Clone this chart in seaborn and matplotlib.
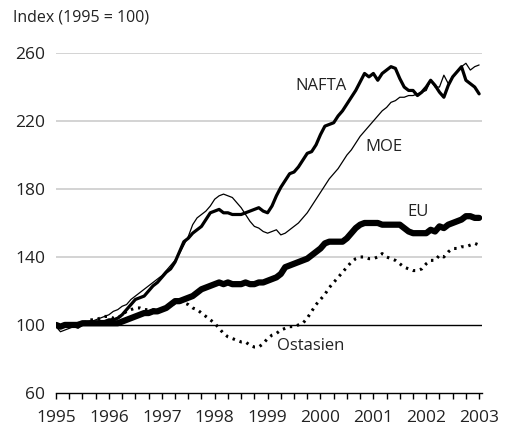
import numpy as np
import pandas as pd
import seaborn as sns
import matplotlib.pyplot as plt
from matplotlib.ticker import MultipleLocator

# Monthly index values, Jan 1995 .. Jan 2003 (1995 = 100)
months = 1995 + np.arange(97) / 12

nafta = [100, 99, 100, 99, 100, 100, 101, 101, 102, 101, 102, 102,
         103, 103, 104, 106, 109, 112, 115, 116, 117, 120, 123, 125,
         128, 131, 133, 137, 143, 149, 151, 154, 156, 158, 162, 166,
         167, 168, 166, 166, 165, 165, 165, 166, 167, 168, 169, 167,
         166, 170, 176, 181, 185, 189, 190, 193, 197, 201, 202, 206,
         212, 217, 218, 219, 223, 226, 230, 234, 238, 243, 248, 246,
         248, 244, 248, 250, 252, 251, 245, 240, 238, 238, 235, 237,
         240, 244, 241, 237, 234, 241, 246, 249, 252, 244, 242, 240,
         236]

moe = [99, 96, 97, 98, 99, 98, 100, 101, 102, 103, 104, 105,
       106, 108, 109, 111, 112, 115, 117, 119, 121, 123, 125, 127,
       129, 132, 135, 138, 142, 147, 152, 159, 163, 165, 167, 170,
       174, 176, 177, 176, 175, 172, 169, 165, 161, 158, 157, 155,
       154, 155, 156, 153, 154, 156, 158, 160, 163, 166, 170, 174,
       178, 182, 186, 189, 192, 196, 200, 203, 207, 211, 214, 217,
       220, 223, 226, 228, 231, 232, 234, 234, 235, 235, 236, 237,
       238, 244, 240, 240, 247, 242, 246, 249, 252, 254, 250, 252,
       253]

eu = [100, 99, 100, 100, 100, 100, 101, 101, 101, 101, 101, 101,
      101, 101, 101, 102, 103, 104, 105, 106, 107, 107, 108, 108,
      109, 110, 112, 114, 114, 115, 116, 117, 119, 121, 122, 123,
      124, 125, 124, 125, 124, 124, 124, 125, 124, 124, 125, 125,
      126, 127, 128, 130, 134, 135, 136, 137, 138, 139, 141, 143,
      145, 148, 149, 149, 149, 149, 151, 154, 157, 159, 160, 160,
      160, 160, 159, 159, 159, 159, 159, 157, 155, 154, 154, 154,
      154, 156, 155, 158, 157, 159, 160, 161, 162, 164, 164, 163,
      163]

ostasien = [100, 99, 100, 99, 100, 101, 101, 102, 103, 103, 104, 105,
            105, 104, 104, 106, 108, 109, 110, 110, 109, 109, 109, 109,
            109, 110, 111, 113, 114, 113, 112, 110, 109, 107, 105, 103,
            101, 98, 95, 93, 92, 91, 90, 90, 88, 87, 87, 89,
            92, 94, 95, 97, 98, 99, 99, 100, 101, 104, 108, 112,
            115, 118, 122, 125, 128, 131, 134, 137, 139, 140, 140, 139,
            139, 140, 142, 140, 139, 138, 136, 134, 133, 132, 132, 133,
            136, 138, 138, 141, 140, 143, 145, 145, 146, 146, 147, 148,
            147]

year_ticks = [1995, 1996, 1997, 1998, 1999, 2000, 2001, 2002, 2003]
y_ticks = [60, 100, 140, 180, 220, 260]

sns.set_theme(style="white")
plt.rcParams['font.family'] = ['Open Sans', 'DejaVu Sans']

fig = plt.figure(figsize=(5.05, 4.28), dpi=100)
ax = fig.add_axes([0.111, 0.082, 0.843, 0.794])

# grid lines
for v in y_ticks[2:]:
    ax.axhline(v, color="#cccccc", lw=1.2, zorder=0)
ax.axhline(100, color="black", lw=1.0, zorder=1)

sns.lineplot(x=months, y=moe, ax=ax, color="black", lw=0.9, zorder=3)
sns.lineplot(x=months, y=ostasien, ax=ax, color="black", lw=2.2,
             linestyle=(0, (0.8, 1.6)), zorder=3)
sns.lineplot(x=months, y=nafta, ax=ax, color="black", lw=2.3, zorder=4)
sns.lineplot(x=months, y=eu, ax=ax, color="black", lw=4.5, zorder=5)

# series labels
ax.text(2000.01, 240.5, "NAFTA", ha="center", va="center", fontsize=12, color="#222222")
ax.text(2001.2, 205, "MOE", ha="center", va="center", fontsize=12, color="#222222")
ax.text(2001.84, 166.5, "EU", ha="center", va="center", fontsize=12, color="#222222")
ax.text(1999.82, 87.6, "Ostasien", ha="center", va="center", fontsize=12, color="#222222")

ax.set_xlim(1995, 2003.05)
ax.set_ylim(60, 260)
ax.set_yticks(y_ticks)
ax.set_xticks(year_ticks)
ax.set_xticklabels([str(y) for y in year_ticks])
ax.xaxis.set_minor_locator(MultipleLocator(0.25))
ax.tick_params(axis="x", which="both", direction="out", length=4, width=1,
               color="black", bottom=True, labelsize=12.5, pad=8, labelcolor="#222222")
ax.tick_params(axis="y", length=0, labelsize=12.5, pad=8, labelcolor="#222222")

for s in ["top", "right", "left"]:
    ax.spines[s].set_visible(False)
ax.spines["bottom"].set_color("black")
ax.spines["bottom"].set_linewidth(1.0)
ax.set_xlabel("")
ax.set_ylabel("")

fig.text(0.026, 0.96, "Index (1995 = 100)", ha="left", va="center",
         fontsize=11.5, color="#222222")

fig.savefig("out.png", dpi=100)
